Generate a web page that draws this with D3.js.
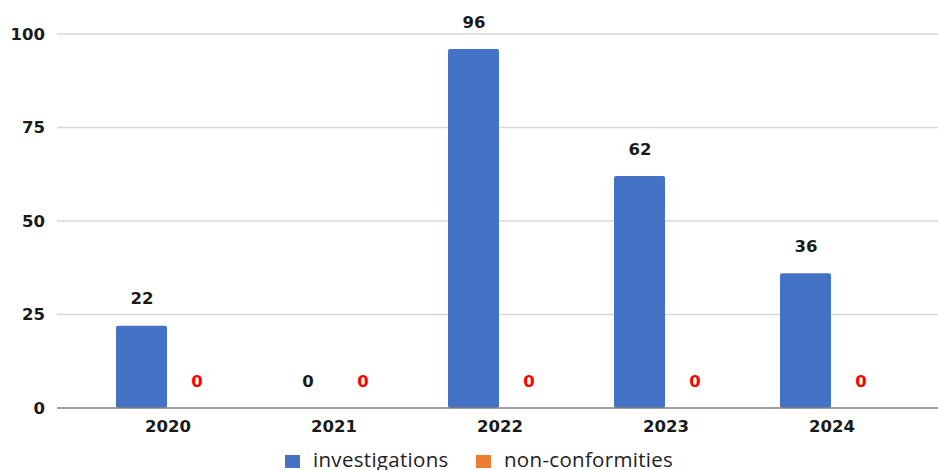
<!DOCTYPE html>
<html>
<head>
<meta charset="utf-8">
<script src="https://cdn.jsdelivr.net/npm/d3@7"></script>
<style>
  body { margin: 0; background: #fff; }
  text { font-family: "DejaVu Sans", Verdana, sans-serif; }
</style>
</head>
<body>
<div id="chart"></div>
<script>
// data
var years = ["2020", "2021", "2022", "2023", "2024"]
var investigations = [22, 0, 96, 62, 36]
var nonConformities = [0, 0, 0, 0, 0]
var seriesNames = ["investigations", "non-conformities"]
var yTicks = [0, 25, 50, 75, 100]

var svgSize = { width: 938, height: 470 }
var colors = { investigations: "#4472C4", nonconf: "#ED7D31" }
var fontSize = "16.5px"

var svg = d3.select("#chart").append("svg")
    .attr("width", svgSize.width)
    .attr("height", svgSize.height)

var xScale = d3.scaleBand()
    .domain(years)
    .range([85, 915])

var yScale = d3.scaleLinear()
    .domain([0, 100])
    .range([408, 34])

var barW = 52

// gridlines
svg.append("g").selectAll("line").data(yTicks.slice(1)).enter().append("line")
    .attr("x1", 57).attr("x2", 938)
    .attr("y1", d => yScale(d)).attr("y2", d => yScale(d))
    .attr("stroke", "#d9d9d9").attr("stroke-width", 1.5)

// y tick labels
svg.append("g").selectAll("text").data(yTicks).enter().append("text")
    .attr("x", 45)
    .attr("y", d => yScale(d))
    .attr("dy", "0.35em")
    .attr("text-anchor", "end")
    .style("font-size", fontSize).style("font-weight", "bold").style("fill", "#1a1a1a")
    .text(d => d)

// bars
var center = d => xScale(d) + xScale.bandwidth() / 2
svg.append("g").selectAll("rect").data(years).enter().append("rect")
    .attr("x", d => center(d) - barW)
    .attr("width", barW - 1)
    .attr("y", (d, i) => yScale(investigations[i]))
    .attr("height", (d, i) => yScale(0) - yScale(investigations[i]))
    .attr("rx", 2)
    .attr("fill", colors.investigations)

svg.append("g").selectAll("rect").data(years).enter().append("rect")
    .attr("x", d => center(d) + 1)
    .attr("width", barW - 1)
    .attr("y", (d, i) => yScale(nonConformities[i]))
    .attr("height", (d, i) => yScale(0) - yScale(nonConformities[i]))
    .attr("fill", colors.nonconf)

// axis baseline
svg.append("line")
    .attr("x1", 57).attr("x2", 938)
    .attr("y1", yScale(0)).attr("y2", yScale(0))
    .attr("stroke", "#808080").attr("stroke-width", 1.5)

// value labels
svg.append("g").selectAll("text").data(years).enter().append("text")
    .attr("x", d => center(d) - barW / 2)
    .attr("y", (d, i) => yScale(investigations[i]) - 27)
    .attr("dy", "0.35em")
    .attr("text-anchor", "middle")
    .style("font-size", fontSize).style("font-weight", "bold").style("fill", "#1a1a1a")
    .text((d, i) => investigations[i])

svg.append("g").selectAll("text").data(years).enter().append("text")
    .attr("x", d => center(d) + barW / 2 + 3)
    .attr("y", (d, i) => yScale(nonConformities[i]) - 27)
    .attr("dy", "0.35em")
    .attr("text-anchor", "middle")
    .style("font-size", fontSize).style("font-weight", "bold").style("fill", "#ff0000")
    .text((d, i) => nonConformities[i])

// x labels
svg.append("g").selectAll("text").data(years).enter().append("text")
    .attr("x", d => center(d))
    .attr("y", 426)
    .attr("dy", "0.35em")
    .attr("text-anchor", "middle")
    .style("font-size", fontSize).style("font-weight", "bold").style("fill", "#1a1a1a")
    .text(d => d)

// legend
var legend = svg.append("g")
var legendX = [285, 476]
var legendColors = [colors.investigations, colors.nonconf]
legend.selectAll("rect").data(seriesNames).enter().append("rect")
    .attr("x", (d, i) => legendX[i])
    .attr("y", 455)
    .attr("width", 15).attr("height", 13)
    .attr("fill", (d, i) => legendColors[i])
legend.selectAll("text").data(seriesNames).enter().append("text")
    .attr("x", (d, i) => legendX[i] + 28)
    .attr("y", 467)
    .style("font-family", "'Open Sans', sans-serif")
    .style("font-size", "20.5px").style("letter-spacing", "0.3px").style("fill", "#222")
    .text(d => d)
</script>
</body>
</html>
